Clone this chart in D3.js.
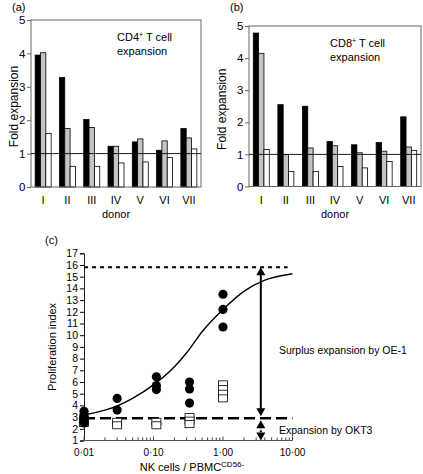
<!DOCTYPE html>
<html><head><meta charset="utf-8">
<script src="https://cdn.jsdelivr.net/npm/d3@7"></script>
<style>
body{margin:0;background:#fff;}
svg{display:block;font-family:"Liberation Sans",Arial,sans-serif;}
</style></head>
<body>
<svg id="chart" width="423" height="474"></svg>
<script>
// ---------- data ----------
const donors = ["I","II","III","IV","V","VI","VII"];
const seriesKeys = ["black","gray","white"];
const cd4Black = [3.95, 3.28, 2.02, 1.22, 1.35, 1.10, 1.75];
const cd4Gray  = [4.02, 1.75, 1.78, 1.22, 1.44, 1.38, 1.47];
const cd4White = [1.60, 0.62, 0.62, 0.72, 0.75, 0.88, 1.14];
const cd8Black = [4.78, 2.55, 2.50, 1.40, 1.30, 1.37, 2.17];
const cd8Gray  = [4.15, 1.00, 1.20, 1.27, 1.05, 1.10, 1.23];
const cd8White = [1.15, 0.47, 0.47, 0.62, 0.58, 0.78, 1.12];
const barTicks = [0,1,2,3,4,5];

// panel c
const dotX = [0.01,0.01,0.01,0.01, 0.03,0.03, 0.11,0.11,0.11, 0.33,0.33,0.33, 1,1,1];
const dotY = [3.5,3.2,2.9,2.5, 4.6,3.6, 6.45,5.7,5.35, 6.0,5.4,4.2, 13.5,12.2,10.7];
const sqX = [0.01,0.01, 0.03,0.03, 0.11,0.11, 0.33,0.33,0.33, 1,1,1,1];
const sqY = [2.8,2.5, 2.6,2.3, 2.6,2.3, 3.0,2.7,2.4, 5.8,5.4,5.0,4.6];
const curveX = [0.01,0.02,0.03,0.05,0.1,0.2,0.3,0.5,1,2,4,10];
const curveY = [3.2,3.6,3.95,4.6,5.75,7.3,8.5,10.3,12.2,13.75,14.7,15.25];
const maxLevel = 15.8, okt3Level = 2.9, baseLevel = 1, arrowAt = 3.5;
const cTicksY = d3.range(1,18);
const cTicksX = [0.01,0.1,1,10];
const cTickLabels = ["0·01","0·10","1·00","10·00"];

const svg = d3.select("#chart");
const colors = {black:"#000", gray:"#c4c4c4", white:"#fff"};

function barPanel(cfg){
  const g = svg.append("g");
  const x0 = d3.scaleBand().domain(donors).range([cfg.x0, cfg.x1]);
  const bw = x0.bandwidth(), gw = 16;
  const x1 = d3.scaleBand().domain(seriesKeys).range([(bw-gw)/2, (bw+gw)/2]);
  const y = d3.scaleLinear().domain([0,5]).range([cfg.yb, cfg.yt]);
  const rows = donors.map((d,i)=>({donor:d, black:cfg.data[0][i], gray:cfg.data[1][i], white:cfg.data[2][i]}));
  const grp = g.selectAll("g.grp").data(rows).enter().append("g")
    .attr("transform", d=>`translate(${x0(d.donor)},0)`);
  grp.selectAll("rect").data(d=>seriesKeys.map(k=>({k, v:d[k]}))).enter().append("rect")
    .attr("x", d=>x1(d.k)).attr("width", x1.bandwidth())
    .attr("y", d=>y(d.v)).attr("height", d=>y(0)-y(d.v))
    .attr("fill", d=>colors[d.k]).attr("stroke","#000").attr("stroke-width",0.8);
  // frame
  g.append("rect").attr("x",cfg.x0).attr("y",y(5)).attr("width",cfg.x1-cfg.x0).attr("height",y(0)-y(5))
    .attr("fill","none").attr("stroke","#666").attr("stroke-width",1);
  // reference line at 1
  g.append("line").attr("x1",cfg.x0).attr("x2",cfg.x1).attr("y1",y(1)).attr("y2",y(1))
    .attr("stroke","#000").attr("stroke-width",0.9);
  // y axis
  const ax = g.append("g").attr("transform",`translate(${cfg.x0},0)`)
    .call(d3.axisLeft(y).tickValues(barTicks).tickSize(4).tickPadding(1.5).tickFormat(d3.format("d")));
  ax.select(".domain").remove();
  ax.selectAll("line").attr("stroke","#666");
  ax.selectAll("text").attr("font-size",11.5).attr("font-family","Liberation Sans, Arial").attr("fill","#000");
  // x labels
  g.selectAll("text.don").data(donors).enter().append("text")
    .attr("x", d=>x0(d)+bw/2).attr("y", cfg.yb+17).attr("text-anchor","middle")
    .attr("font-size",11).text(d=>d);
  g.append("text").attr("x",(cfg.x0+cfg.x1)/2).attr("y",cfg.yb+31).attr("text-anchor","middle")
    .attr("font-size",11).text("donor");
  g.append("text").attr("transform",`translate(${cfg.ytx},${(cfg.yt+cfg.yb)/2+3}) rotate(-90)`)
    .attr("text-anchor","middle").attr("font-size",12).text("Fold expansion");
  g.append("text").attr("x",cfg.lx).attr("y",cfg.ly).attr("font-size",11).text(cfg.label);
  const t = g.append("text").attr("x",cfg.tx).attr("y",cfg.ty).attr("font-size",11);
  t.append("tspan").text(cfg.cd);
  t.append("tspan").attr("font-size",7).attr("dy",-4).text("+");
  t.append("tspan").attr("dy",4).text(" T cell");
  g.append("text").attr("x",cfg.tx).attr("y",cfg.ty+14).attr("font-size",11).text("expansion");
}

barPanel({x0:31, x1:201, yt:20, yb:187, data:[cd4Black,cd4Gray,cd4White],
  ytx:18, lx:12, ly:11, label:"(a)", tx:117, ty:41, cd:"CD4"});
barPanel({x0:249, x1:421, yt:26, yb:186.5, data:[cd8Black,cd8Gray,cd8White],
  ytx:226, lx:230, ly:11, label:"(b)", tx:330, ty:47, cd:"CD8"});

// ---------- panel c ----------
const gc = svg.append("g");
const xc = d3.scaleLog().domain([0.01,10]).range([84,292.5]);
const yc = d3.scaleLinear().domain([1,17]).range([440.5,253.3]);

// y axis
const ya = gc.append("g").attr("transform","translate(84,0)")
  .call(d3.axisLeft(yc).tickValues(cTicksY).tickSize(4).tickPadding(2).tickFormat(d3.format("d")));
ya.selectAll("text").attr("font-size",10.5).attr("font-family","Liberation Sans, Arial");
ya.select(".domain").attr("stroke","#222");
// x axis: minor ticks upward
const minor = [];
[0.01,0.1,1].forEach(b=>{ for(let k=2;k<=9;k++) minor.push(b*k); });
gc.selectAll("line.minor").data(minor).enter().append("line")
  .attr("x1",d=>xc(d)).attr("x2",d=>xc(d)).attr("y1",yc(1)).attr("y2",yc(1)-3)
  .attr("stroke","#444").attr("stroke-width",1);
gc.selectAll("line.major").data(cTicksX).enter().append("line")
  .attr("x1",d=>xc(d)).attr("x2",d=>xc(d)).attr("y1",yc(1)).attr("y2",yc(1)-4)
  .attr("stroke","#444").attr("stroke-width",1);
gc.append("line").attr("x1",xc(0.01)).attr("x2",xc(10)).attr("y1",yc(1)).attr("y2",yc(1))
  .attr("stroke","#555").attr("stroke-width",1.2);
gc.selectAll("text.xt").data(cTicksX).enter().append("text")
  .attr("x",d=>xc(d)).attr("y",yc(1)+15).attr("text-anchor","middle").attr("font-size",10)
  .text((d,i)=>cTickLabels[i]);
const xt = gc.append("text").attr("x",192).attr("y",471).attr("text-anchor","middle").attr("font-size",11);
xt.append("tspan").text("NK cells / PBMC");
xt.append("tspan").attr("font-size",8).attr("dy",-4).text("CD56-");
gc.append("text").attr("transform",`translate(56,${(yc(1)+yc(17))/2}) rotate(-90)`)
  .attr("text-anchor","middle").attr("font-size",11).text("Proliferation index");
gc.append("text").attr("x",45).attr("y",244).attr("font-size",11).text("(c)");

// reference lines
gc.append("line").attr("x1",xc(0.01)).attr("x2",xc(8.5)).attr("y1",yc(maxLevel)).attr("y2",yc(maxLevel))
  .attr("stroke","#000").attr("stroke-width",2).attr("stroke-dasharray","4,4");
gc.append("line").attr("x1",xc(0.01)).attr("x2",xc(10)).attr("y1",yc(okt3Level)).attr("y2",yc(okt3Level))
  .attr("stroke","#000").attr("stroke-width",2.5).attr("stroke-dasharray","11,5");

// squares
gc.selectAll("rect.sq").data(sqX.map((x,i)=>({x,y:sqY[i]}))).enter().append("rect")
  .attr("x",d=>xc(d.x)-4.5).attr("y",d=>yc(d.y)-3.5).attr("width",9).attr("height",7)
  .attr("fill","#fff").attr("stroke","#000").attr("stroke-width",0.8);
// curve
gc.append("path").datum(curveX.map((x,i)=>[x,curveY[i]]))
  .attr("d", d3.line().x(d=>xc(d[0])).y(d=>yc(d[1])).curve(d3.curveMonotoneX))
  .attr("fill","none").attr("stroke","#000").attr("stroke-width",1.4);
// dots
gc.selectAll("circle.dot").data(dotX.map((x,i)=>({x,y:dotY[i]}))).enter().append("circle")
  .attr("cx",d=>xc(d.x)).attr("cy",d=>yc(d.y)).attr("r",4.6).attr("fill","#000");

// arrows
const ax0 = xc(arrowAt);
function tri(tipY, dir){ // dir -1 = pointing up, 1 = pointing down
  const h = 8, w = 4.5;
  return `M${ax0},${tipY} L${ax0-w},${tipY-dir*h} L${ax0+w},${tipY-dir*h} Z`;
}
gc.append("line").attr("x1",ax0).attr("x2",ax0).attr("y1",yc(maxLevel)+6).attr("y2",yc(okt3Level)-6)
  .attr("stroke","#000").attr("stroke-width",2);
gc.append("path").attr("d",tri(yc(maxLevel),-1)).attr("fill","#000");
gc.append("path").attr("d",tri(yc(okt3Level)-2,1)).attr("fill","#000");
gc.append("line").attr("x1",ax0).attr("x2",ax0).attr("y1",yc(okt3Level)+8).attr("y2",yc(baseLevel)-6)
  .attr("stroke","#000").attr("stroke-width",2).attr("stroke-dasharray","2,2");
gc.append("path").attr("d",tri(yc(okt3Level)+2,-1)).attr("fill","#000");
gc.append("path").attr("d",tri(yc(baseLevel),1)).attr("fill","#000");

gc.append("text").attr("x",279).attr("y",354).attr("font-size",10.5).text("Surplus expansion by OE-1");
gc.append("text").attr("x",279).attr("y",434).attr("font-size",10.5).text("Expansion by OKT3");
</script>
</body></html>
